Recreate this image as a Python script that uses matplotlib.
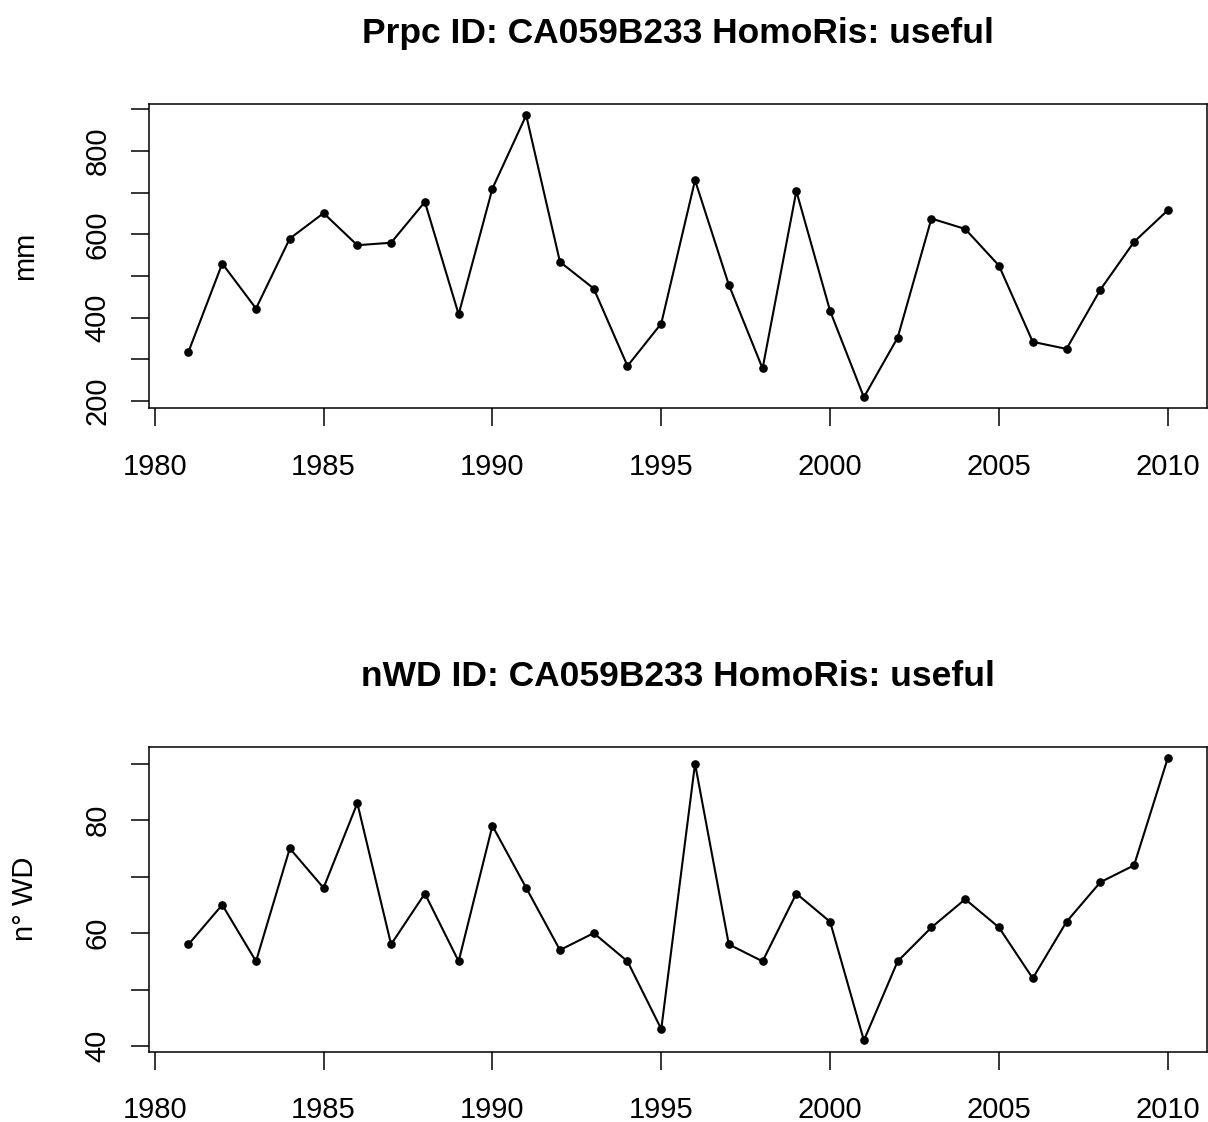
import numpy as np
import matplotlib
matplotlib.use('Agg')
import matplotlib.pyplot as plt

plt.rcParams['font.family'] = ['Liberation Sans', 'DejaVu Sans']

station = 'CA059B233'
years = np.arange(1981, 2011)

# annual precipitation total (mm)
prpc = [318, 530, 422, 590, 651, 574, 580, 678, 408, 710, 886,
        534, 470, 284, 386, 730, 479, 278, 704, 416, 209, 352,
        638, 613, 525, 342, 325, 467, 582, 658]

# number of wet days
nwd = [58, 65, 55, 75, 68, 83, 58, 67, 55, 79, 68, 57, 60, 55, 43,
       90, 58, 55, 67, 62, 41, 55, 61, 66, 61, 52, 62, 69, 72, 91]

xticks = [1980, 1985, 1990, 1995, 2000, 2005, 2010]
prpc_ticks = [200, 300, 400, 500, 600, 700, 800, 900]
prpc_labels = ['200', '', '400', '', '600', '', '800', '']
nwd_ticks = [40, 50, 60, 70, 80, 90]
nwd_labels = ['40', '', '60', '', '80', '']

W, H = 1208, 1122
fig = plt.figure(figsize=(W / 100, H / 100), dpi=100)


def panel(box, values, yticks, ylabels, ylabel, title, title_y):
    left, top, right, bottom = box
    ax = fig.add_axes([left / W, 1 - bottom / H, (right - left) / W, (bottom - top) / H])
    ax.plot(years, values, color='black', lw=1.5, marker='o', ms=5.2,
            mfc='black', mec='black')
    # R-style 4% padding on both axes
    xr = years.max() - years.min()
    ax.set_xlim(years.min() - 0.04 * xr, years.max() + 0.04 * xr)
    v = np.array(values, dtype=float)
    yr = v.max() - v.min()
    ax.set_ylim(v.min() - 0.04 * yr, v.max() + 0.04 * yr)
    ax.set_xticks(xticks)
    ax.set_xticklabels([str(t) for t in xticks])
    ax.set_yticks(yticks)
    ax.set_yticklabels(ylabels, rotation=90, va='center')
    ax.tick_params(axis='both', length=13, width=1.1, labelsize=21, direction='out')
    ax.tick_params(axis='x', pad=19)
    ax.tick_params(axis='y', pad=14)
    for s in ax.spines.values():
        s.set_linewidth(1.1)
    fig.text(25 / W, 1 - (top + bottom) / 2 / H, ylabel, rotation=90,
             ha='center', va='center', fontsize=21)
    fig.text((left + right) / 2 / W, 1 - title_y / H, title, ha='center',
             va='baseline', fontsize=25.5, fontweight='bold')
    return ax


panel((149.3, 104, 1207, 408.5), prpc, prpc_ticks, prpc_labels, 'mm',
      f'Prpc ID: {station} HomoRis: useful', 43)
panel((149.3, 746.7, 1207, 1051.7), nwd, nwd_ticks, nwd_labels, 'n° WD',
      f'nWD ID: {station} HomoRis: useful', 686)

fig.savefig('out.png', dpi=100)
